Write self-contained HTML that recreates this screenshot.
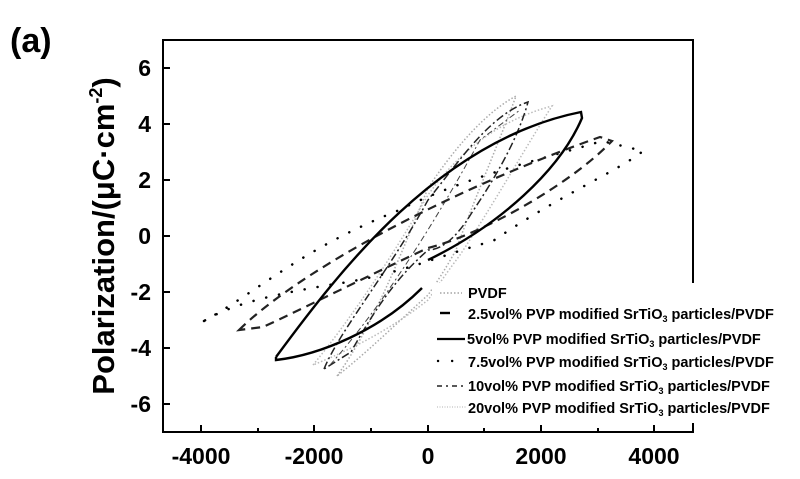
<!DOCTYPE html>
<html><head><meta charset="utf-8"><style>
body{margin:0;background:#fff;}
svg{display:block;font-family:"Liberation Sans",Arial,sans-serif;font-weight:bold;}
</style></head><body>
<svg width="800" height="479" viewBox="0 0 800 479" xmlns="http://www.w3.org/2000/svg">
<text x="10" y="52" font-size="34">(a)</text>
<rect x="163" y="40" width="530" height="392" fill="none" stroke="#000" stroke-width="2"/>
<g stroke="#000" stroke-width="2">
<line x1="163" y1="68" x2="170" y2="68"/><line x1="163" y1="124" x2="170" y2="124"/><line x1="163" y1="180" x2="170" y2="180"/><line x1="163" y1="236" x2="170" y2="236"/><line x1="163" y1="292" x2="170" y2="292"/><line x1="163" y1="348" x2="170" y2="348"/><line x1="163" y1="404" x2="170" y2="404"/>
<line x1="201" y1="432" x2="201" y2="425"/><line x1="314" y1="432" x2="314" y2="425"/><line x1="428" y1="432" x2="428" y2="425"/><line x1="541" y1="432" x2="541" y2="425"/><line x1="654" y1="432" x2="654" y2="425"/>
<line x1="258" y1="432" x2="258" y2="428"/><line x1="371" y1="432" x2="371" y2="428"/><line x1="484" y1="432" x2="484" y2="428"/><line x1="598" y1="432" x2="598" y2="428"/>
</g>
<g font-size="23" text-anchor="end">
<text x="151" y="76">6</text><text x="151" y="132">4</text><text x="151" y="188">2</text><text x="151" y="244">0</text><text x="151" y="300">-2</text><text x="151" y="356">-4</text><text x="151" y="412">-6</text>
</g>
<g font-size="23" text-anchor="middle">
<text x="201" y="464">-4000</text><text x="314" y="464">-2000</text><text x="428" y="464">0</text><text x="541" y="464">2000</text><text x="654" y="464">4000</text>
</g>
<text transform="translate(114,236) rotate(-90)" font-size="31" text-anchor="middle">Polarization/(μC·cm<tspan font-size="18" dy="-12">-2</tspan><tspan dy="12">)</tspan></text>

<path d="M337,376 C370,330 395,270 428,188 C460,140 490,110 516,96 C500,140 470,210 456,250 C445,270 435,285 428,295 C400,320 370,350 337,376 Z" fill="none" stroke="#aaa" stroke-width="1.5" stroke-dasharray="1.5,2"/>
<path d="M313,365 C350,320 390,260 428,195 C460,150 500,120 552,106 C530,140 490,210 460,255 C445,275 435,290 428,300 C390,330 350,350 313,365 Z" fill="none" stroke="#bbb" stroke-width="1.5" stroke-dasharray="1.5,2"/>
<path d="M324,369 C340,330 390,270 428,200 C460,160 490,115 528,102 C515,150 480,200 471,214 C455,240 440,250 428,250 C400,275 380,300 351,352 Z" fill="none" stroke="#222" stroke-width="1.5" stroke-dasharray="8,3,2,3"/>
<path d="M330,365 C370,320 420,250 480,140 L520,110" fill="none" stroke="#444" stroke-width="1" stroke-dasharray="6,3,2,3"/>
<path d="M204,321 C260,290 300,250 397,211 C470,175 540,160 602,141 L643,151 C620,170 560,195 493,241 C440,255 400,275 329,285 C270,295 230,305 204,321" fill="none" stroke="#000" stroke-width="2.5" stroke-linecap="round" stroke-dasharray="0.1,13"/>
<path d="M239,330 C300,270 450,190 600,137 L612,141 C570,185 480,235 428,248 C380,270 300,310 263,327 Z" fill="none" stroke="#222" stroke-width="2.2" stroke-dasharray="9,6"/>
<path d="M276,357 C340,270 440,140 581,112 L582,118 C560,170 500,225 428,260" fill="none" stroke="#000" stroke-width="2.4"/>
<path d="M422,288 C380,330 320,355 276,360 L276,357" fill="none" stroke="#000" stroke-width="2.4"/>

<rect x="432" y="283" width="368" height="140" fill="#fff"/>
<g stroke-width="2" fill="none">
<line x1="440" y1="293" x2="462" y2="293" stroke="#bbb" stroke-dasharray="1.5,2"/>
<line x1="440" y1="313" x2="450" y2="313" stroke="#000" stroke-width="2.4"/>
<line x1="437" y1="339" x2="465" y2="339" stroke="#000" stroke-width="2.2"/>
<line x1="438" y1="361" x2="460" y2="361" stroke="#000" stroke-width="2.4" stroke-linecap="round" stroke-dasharray="0.1,14"/>
<line x1="437" y1="386" x2="466" y2="386" stroke="#222" stroke-width="1.5" stroke-dasharray="5,4,2,4"/>
<line x1="437" y1="407" x2="466" y2="407" stroke="#ccc" stroke-width="1.5" stroke-dasharray="1,1.5"/>
</g>
<g font-size="14.5">
<text x="468" y="298">PVDF</text>
<text x="468" y="319">2.5vol% PVP modified SrTiO<tspan font-size="9" dy="3">3</tspan><tspan dy="-3"> particles/PVDF</tspan></text>
<text x="467" y="344">5vol% PVP modified SrTiO<tspan font-size="9" dy="3">3</tspan><tspan dy="-3"> particles/PVDF</tspan></text>
<text x="468" y="367">7.5vol% PVP modified SrTiO<tspan font-size="9" dy="3">3</tspan><tspan dy="-3"> particles/PVDF</tspan></text>
<text x="468" y="391">10vol% PVP modified SrTiO<tspan font-size="9" dy="3">3</tspan><tspan dy="-3"> particles/PVDF</tspan></text>
<text x="468" y="413">20vol% PVP modified SrTiO<tspan font-size="9" dy="3">3</tspan><tspan dy="-3"> particles/PVDF</tspan></text>
</g>
<line x1="163" y1="432" x2="693" y2="432" stroke="#000" stroke-width="2"/>
</svg>
</body></html>
